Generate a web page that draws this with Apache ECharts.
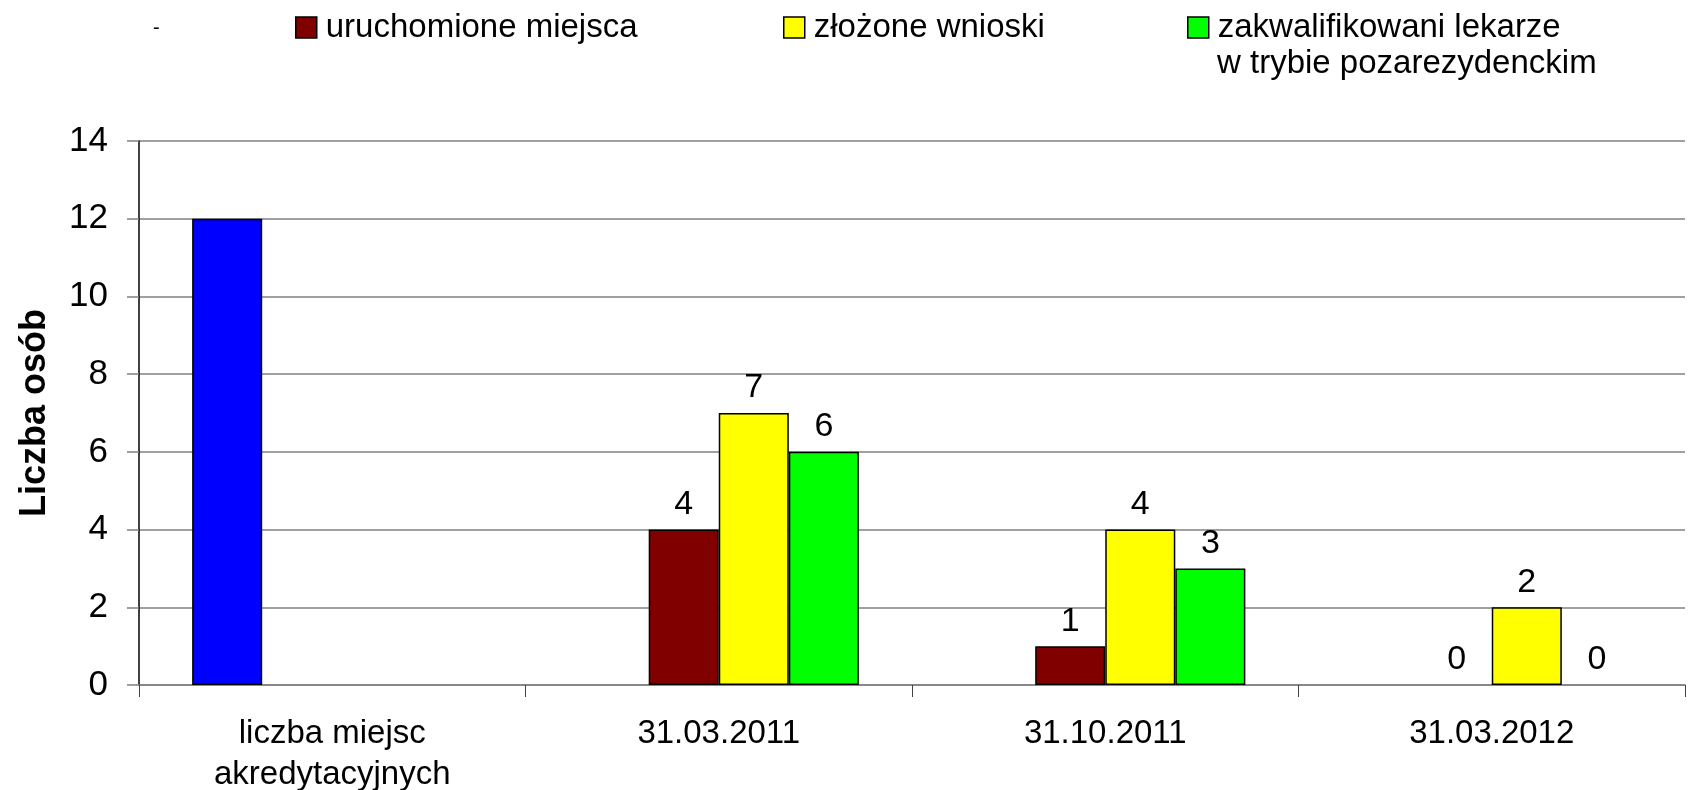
<!DOCTYPE html>
<html>
<head>
<meta charset="utf-8">
<script src="https://cdn.jsdelivr.net/npm/echarts@6/dist/echarts.min.js"></script>
<style>
  html, body { margin: 0; padding: 0; background: #ffffff; }
  #chart { width: 1688px; height: 790px; }
</style>
</head>
<body>
<div id="chart"></div>
<script>
// Categories along the x axis
var categories = ['liczba miejsc\nakredytacyjnych', '31.03.2011', '31.10.2011', '31.03.2012'];

// Series values (null = no bar in that category)
var accreditedPlaces = [12, null, null, null];
var launchedPlaces   = [null, 4, 1, 0];
var submittedApps    = [null, 7, 4, 2];
var qualifiedDoctors = [null, 6, 3, 0];

// Series names
var seriesNames = ['-', 'uruchomione miejsca', 'złożone wnioski', 'zakwalifikowani lekarze\nw trybie pozarezydenckim'];

// Value axis ticks
var yMin = 0, yMax = 14, yStep = 2;

var FONT = '"Liberation Sans", Arial, sans-serif';
var chart = echarts.init(document.getElementById('chart'), null, { renderer: 'canvas' });

// zero-height bars get no outline so they don't leave a stroke on the axis
function withOutline(data) {
  return data.map(function (v) {
    return v === 0 ? { value: 0, itemStyle: { borderWidth: 0 } } : v;
  });
}

function barSeries(name, data, color, showLabel) {
  return {
    name: name,
    type: 'bar',
    data: withOutline(data),
    barGap: '0%',
    barCategoryGap: '27.5%',
    itemStyle: { color: color, borderColor: '#000000', borderWidth: 1.5 },
    label: {
      show: showLabel,
      position: 'top',
      distance: 8,
      fontFamily: FONT,
      fontSize: 34,
      color: '#000000'
    },
    emphasis: { disabled: true },
    animation: false
  };
}

function legendAt(left, name) {
  return {
    left: left,
    top: 11,
    padding: 0,
    itemWidth: 21,
    itemHeight: 21,
    icon: 'rect',
    selectedMode: false,
    data: [name],
    formatter: function (n) { return n.split('\n')[0]; },
    itemStyle: { borderColor: '#000000', borderWidth: 1.5 },
    textStyle: { fontFamily: FONT, fontSize: 33, color: '#000000', padding: [0, 0, 0, 4] }
  };
}

var option = {
  backgroundColor: '#ffffff',
  animation: false,
  grid: {
    left: 139, right: 3, top: 141, bottom: 105,
    containLabel: false,
    outerBoundsMode: 'none'
  },
  legend: [
    legendAt(295, seriesNames[1]),
    legendAt(783, seriesNames[2]),
    legendAt(1187, seriesNames[3])
  ],
  graphic: [
    {
      type: 'text', left: 153, top: 18,
      style: { text: seriesNames[0], font: '20px ' + FONT, fill: '#000000' }
    },
    {
      type: 'text', x: 1217, y: 64,
      style: {
        text: seriesNames[3].split('\n')[1],
        font: '33px ' + FONT, fill: '#000000', verticalAlign: 'middle'
      }
    }
  ],
  xAxis: {
    type: 'category',
    data: categories,
    axisLine: { show: true, lineStyle: { color: '#808080', width: 1.5 } },
    axisTick: { show: true, length: 12, lineStyle: { color: '#404040', width: 1 } },
    axisLabel: {
      fontFamily: FONT, fontSize: 33, color: '#000000',
      margin: 28, lineHeight: 41, interval: 0
    },
    splitLine: { show: false }
  },
  yAxis: {
    type: 'value',
    min: yMin, max: yMax, interval: yStep,
    name: 'Liczba osób',
    nameLocation: 'middle',
    nameRotate: 90,
    nameGap: 86,
    nameTextStyle: { fontFamily: FONT, fontSize: 36, fontWeight: 'bold', color: '#000000' },
    axisLine: { show: true, lineStyle: { color: '#000000', width: 1.5 } },
    axisTick: { show: true, length: 12, lineStyle: { color: '#808080', width: 1.5 } },
    axisLabel: { fontFamily: FONT, fontSize: 35, color: '#000000', margin: 31 },
    splitLine: { show: true, lineStyle: { color: '#808080', width: 1.5 } }
  },
  series: [
    barSeries(seriesNames[0], accreditedPlaces, '#0000FF', false),
    barSeries(seriesNames[1], launchedPlaces, '#800000', true),
    barSeries(seriesNames[2], submittedApps, '#FFFF00', true),
    barSeries(seriesNames[3], qualifiedDoctors, '#00FF00', true)
  ]
};

chart.setOption(option);
</script>
</body>
</html>
